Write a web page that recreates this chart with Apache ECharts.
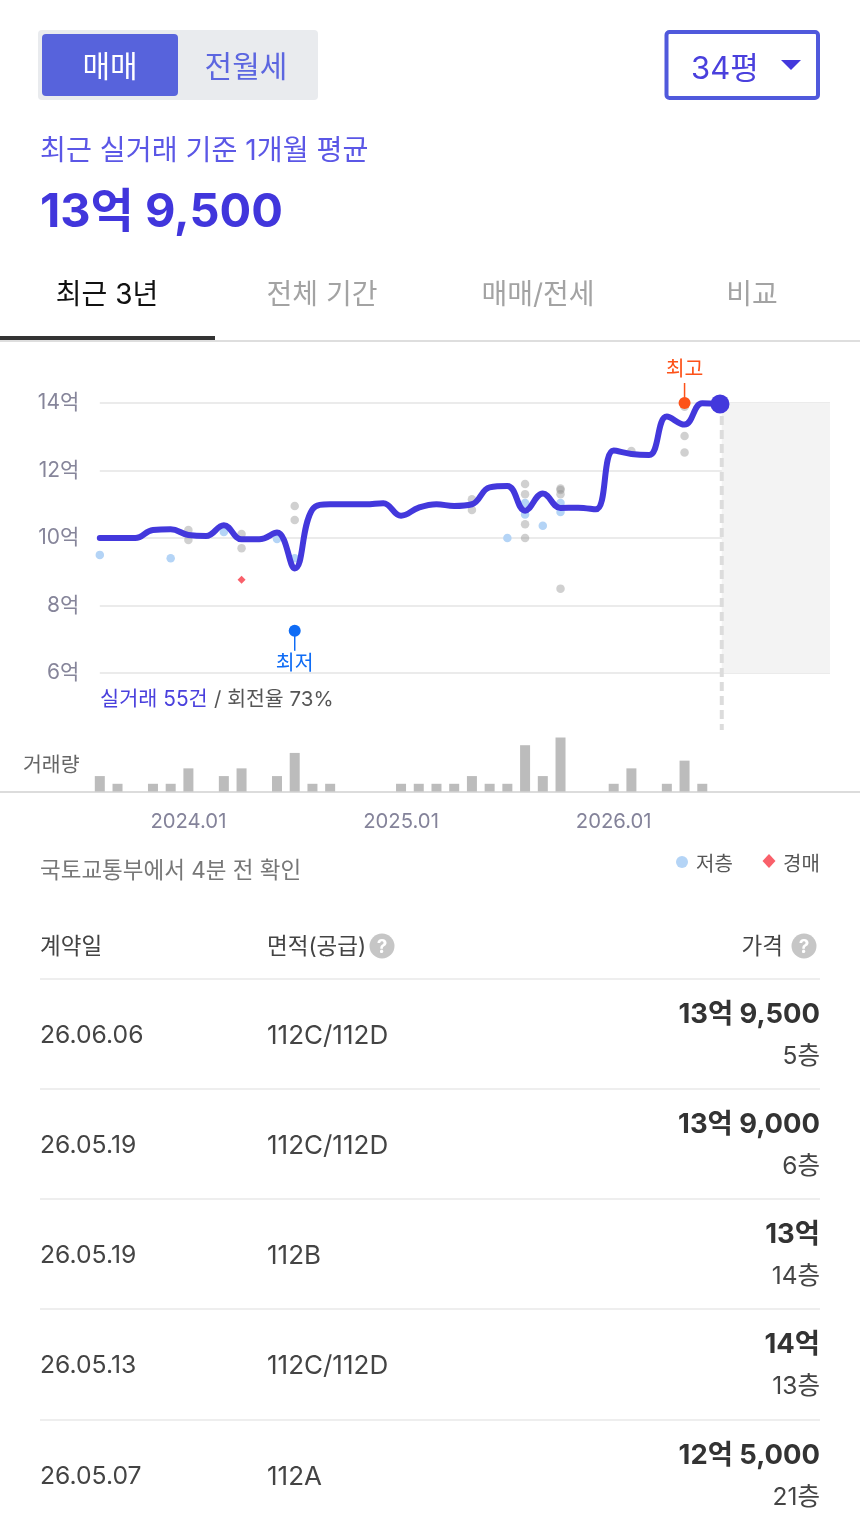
<!DOCTYPE html>
<html>
<head>
<meta charset="utf-8">
<title>실거래가</title>
<script src="https://cdn.jsdelivr.net/npm/echarts@6/dist/echarts.min.js"></script>
<style>
html, body { margin: 0; padding: 0; background: #fff; }
#chart { width: 860px; height: 1530px; }
</style>
</head>
<body>
<div id="chart"></div>
<script>
// month index 0 = 2023.08
var month_ticks = [5, 17, 29];
var month_labels = ["2024.01", "2025.01", "2026.01"];
var price_ticks = [6, 8, 10, 12, 14];

var avg_months = [0, 1, 2, 3, 4, 5, 6, 7, 8, 9, 10, 11, 12, 13, 14, 15, 16, 17, 18, 19, 20, 21, 22, 23, 24, 25, 26, 27, 28, 29, 30, 31, 32, 33, 34, 35];
var avg_prices = [10.0, 10.0, 10.0, 10.24, 10.26, 10.09, 10.06, 10.38, 9.96, 9.96, 10.16, 9.1, 10.85, 11.0, 11.0, 11.0, 11.03, 10.66, 10.9, 11.0, 10.95, 11.0, 11.5, 11.54, 10.81, 11.32, 10.89, 10.9, 10.85, 12.59, 12.49, 12.46, 13.6, 13.36, 13.99, 13.97];

var deal_months = [5, 5, 8, 8, 11, 11, 21, 21, 24, 24, 24, 24, 26, 26, 26, 26, 30, 33, 33, 33];
var deal_prices = [10.24, 9.94, 10.12, 9.7, 10.95, 10.53, 11.15, 10.83, 11.6, 11.3, 10.41, 10.0, 11.47, 11.42, 11.3, 8.5, 12.58, 13.89, 13.02, 12.53];

var low_months = [0, 4, 7, 10, 11, 23, 24, 24, 25, 26, 26];
var low_prices = [9.5, 9.4, 10.18, 9.97, 9.4, 10.0, 11.04, 10.7, 10.36, 11.04, 10.77];

var auction_months = [8];
var auction_prices = [8.76];

var volume_months = [0, 1, 3, 4, 5, 7, 8, 10, 11, 12, 13, 17, 18, 19, 20, 21, 22, 23, 24, 25, 26, 29, 30, 32, 33, 34];
var volume_counts = [2, 1, 1, 1, 3, 2, 3, 2, 5, 1, 1, 1, 1, 1, 1, 2, 1, 1, 6, 2, 7, 1, 3, 1, 4, 1];

var extreme_months = [33, 11];
var extreme_prices = [14.0, 7.25];
var extreme_names = ["최고", "최저"];

var table_dates = ["26.06.06", "26.05.19", "26.05.19", "26.05.13", "26.05.07"];
var table_areas = ["112C/112D", "112C/112D", "112B", "112C/112D", "112A"];
var table_prices = ["13억 9,500", "13억 9,000", "13억", "14억", "12억 5,000"];
var table_floors = ["5층", "6층", "14층", "13층", "21층"];

var FONT = 'Inter, "Noto Sans CJK KR", sans-serif';
var BLUE = "#4338dc";
var X0 = 99.8, PX_PER_MONTH = 17.72;

function pairs(a, b) {
    var r = [];
    for (var i = 0; i < a.length; i++) r.push([a[i], b[i]]);
    return r;
}

function txt(s, x, y, size, color, align, weight) {
    return {
        type: "text", silent: true, z: 20,
        style: {
            text: s, x: x, y: y + size * 0.08, fill: color,
            font: (weight || "normal") + " " + size + "px " + FONT,
            textAlign: align || "left", textVerticalAlign: "middle"
        }
    };
}

function box(x, y, w, h, fill, r, stroke, lw) {
    return {
        type: "rect", silent: true, z: 10,
        shape: {x: x, y: y, width: w, height: h, r: r || 0},
        style: {fill: fill, stroke: stroke || null, lineWidth: lw || 0}
    };
}

function rule(x1, y1, x2, y2, color, lw) {
    return {
        type: "line", silent: true, z: 10,
        shape: {x1: x1, y1: y1, x2: x2, y2: y2},
        style: {stroke: color, lineWidth: lw}
    };
}

function help_icon(cx, cy) {
    return [
        {type: "circle", silent: true, z: 15, shape: {cx: cx, cy: cy, r: 12.5}, style: {fill: "#c6c6c6"}},
        txt("?", cx, cy, 19, "#fff", "center", "bold")
    ];
}

function page_graphics() {
    var g = [];
    // buy / rent toggle
    g.push(box(38, 30, 280, 70, "#e9ebee", 4));
    g.push(box(42, 34, 136, 62, "#5763dc", 4));
    g.push(txt("매매", 110, 66, 30, "#fff", "center"));
    g.push(txt("전월세", 246, 66, 30, "#5c66e0", "center"));
    // size select
    g.push(box(666.5, 32, 151.5, 66, "#fff", 3, "#5059dc", 4));
    g.push(txt("34평", 691, 67, 31, "#4a40dd"));
    g.push({
        type: "polygon", silent: true, z: 15,
        shape: {points: [[781, 60], [801, 60], [791, 70]]},
        style: {fill: BLUE}
    });
    // summary
    g.push(txt("최근 실거래 기준 1개월 평균", 40, 149, 28.2, "#5b57e6"));
    g.push(txt("13억 9,500", 40, 209.5, 47, "#4136dc", "left", "bold"));
    // tabs
    g.push(txt("최근 3년", 107, 293, 28, "#111", "center"));
    g.push(txt("전체 기간", 322, 293, 28, "#a3a3a3", "center"));
    g.push(txt("매매/전세", 538, 293, 28, "#a3a3a3", "center"));
    g.push(txt("비교", 752, 293, 28, "#a3a3a3", "center"));
    g.push(box(0, 340, 860, 2, "#dedede"));
    g.push(box(0, 336, 215, 4, "#333"));
    // chart captions
    g.push(txt("실거래 55건", 100, 698, 20.8, "#4a40dd"));
    g.push(txt("/ 회전율 73%", 214, 698, 20.5, "#555"));
    g.push(txt("거래량", 23, 764, 20.5, "#666"));
    g.push(txt("국토교통부에서 4분 전 확인", 40, 869, 22.5, "#777"));
    // legend
    g.push({type: "circle", silent: true, z: 15, shape: {cx: 682, cy: 862, r: 6}, style: {fill: "#b4d4f6"}});
    g.push(txt("저층", 696, 863, 20, "#555"));
    g.push({
        type: "polygon", silent: true, z: 15,
        shape: {points: [[769, 854], [775.5, 861], [769, 868], [762.5, 861]]},
        style: {fill: "#f9606a"}
    });
    g.push(txt("경매", 783, 863, 20, "#555"));
    // table header
    g.push(txt("계약일", 40, 945, 22.5, "#444"));
    g.push(txt("면적(공급)", 267, 945, 22.5, "#444"));
    g = g.concat(help_icon(382, 946));
    g.push(txt("가격", 783, 945, 22.5, "#444", "right"));
    g = g.concat(help_icon(804, 946));
    // table rows
    var row_y = [979, 1089, 1199, 1309, 1420];
    for (var i = 0; i < table_dates.length; i++) {
        var y = row_y[i];
        g.push(rule(40, y, 820, y, "#eeeeee", 2));
        g.push(txt(table_dates[i], 40, y + 55, 24.7, "#444"));
        g.push(txt(table_areas[i], 267, y + 55, 26, "#444"));
        g.push(txt(table_prices[i], 820, y + 34, 27.4, "#333", "right", "bold"));
        g.push(txt(table_floors[i], 820, y + 76, 24.5, "#444", "right"));
    }
    return g;
}

var chart = echarts.init(document.getElementById("chart"), null, {renderer: "canvas"});

var option = {
    animation: false,
    backgroundColor: "#fff",
    textStyle: {fontFamily: FONT},
    grid: [
        {left: X0, width: 830 - X0, top: 403, height: 270},
        {left: 0, width: 860, top: 737.5, height: 54}
    ],
    xAxis: [
        {type: "value", gridIndex: 0, min: 0, max: (830 - X0) / PX_PER_MONTH, show: false},
        {
            type: "value", gridIndex: 1,
            min: -X0 / PX_PER_MONTH, max: (860 - X0) / PX_PER_MONTH,
            axisLine: {onZero: false, lineStyle: {color: "#dcdcdc", width: 2}},
            axisTick: {show: false},
            splitLine: {show: false},
            axisLabel: {
                customValues: month_ticks,
                margin: 20, fontSize: 20.3, color: "#84839a", fontFamily: FONT,
                formatter: function (v) {
                    return month_labels[month_ticks.indexOf(v)];
                }
            }
        }
    ],
    yAxis: [
        {
            type: "value", gridIndex: 0, min: 6, max: 14, interval: 2,
            axisLine: {show: false},
            axisTick: {show: false},
            splitLine: {lineStyle: {color: "#ebebeb", width: 2}},
            axisLabel: {
                margin: 20.5, fontSize: 21, color: "#86859a", fontFamily: FONT,
                padding: [4, 0, 0, 0],
                formatter: function (v) { return v + "억"; }
            }
        },
        {type: "value", gridIndex: 1, min: 0, max: 7, show: false}
    ],
    series: [
        {
            name: "실거래", type: "scatter", xAxisIndex: 0, yAxisIndex: 0, clip: false, z: 2,
            symbolSize: 8.5, itemStyle: {color: "#8f8f8f", opacity: 0.42},
            data: pairs(deal_months, deal_prices)
        },
        {
            name: "저층", type: "scatter", xAxisIndex: 0, yAxisIndex: 0, clip: false, z: 2,
            symbolSize: 8.5, itemStyle: {color: "#b4d4f6", opacity: 1},
            data: pairs(low_months, low_prices)
        },
        {
            name: "경매", type: "scatter", xAxisIndex: 0, yAxisIndex: 0, clip: false, z: 2,
            symbol: "diamond", symbolSize: 8, itemStyle: {color: "#f9606a", opacity: 1},
            data: pairs(auction_months, auction_prices)
        },
        {
            name: "평균", type: "line", xAxisIndex: 0, yAxisIndex: 0, clip: false, z: 5,
            smooth: 0.42, showSymbol: false,
            lineStyle: {color: BLUE, width: 6, cap: "round", join: "round"},
            data: pairs(avg_months, avg_prices),
            markArea: {
                silent: true,
                itemStyle: {color: "#f3f3f3", opacity: 1},
                data: [[{xAxis: 35.1, yAxis: 14}, {xAxis: (830 - X0) / PX_PER_MONTH, yAxis: 6}]]
            }
        },
        {
            name: "현재", type: "scatter", xAxisIndex: 0, yAxisIndex: 0, clip: false, z: 6,
            symbolSize: 19, itemStyle: {color: BLUE, opacity: 1},
            data: [[avg_months[avg_months.length - 1], avg_prices[avg_prices.length - 1]]]
        },
        {
            name: "최고최저", type: "custom", xAxisIndex: 0, yAxisIndex: 0, clip: false, z: 6,
            data: pairs(extreme_months, extreme_prices),
            renderItem: function (params, api) {
                var p = api.coord([api.value(0), api.value(1)]);
                var high = params.dataIndex == 0;
                var color = high ? "#fd5219" : "#0f6cf5";
                var dir = high ? -1 : 1;
                return {
                    type: "group",
                    children: [
                        {type: "line", shape: {x1: p[0], y1: p[1], x2: p[0], y2: p[1] + dir * 20}, style: {stroke: color, lineWidth: 1.5}},
                        {type: "circle", shape: {cx: p[0], cy: p[1], r: 6}, style: {fill: color}},
                        {
                            type: "text",
                            style: {
                                text: extreme_names[params.dataIndex], x: p[0], y: p[1] + dir * 33,
                                fill: color, font: "20.5px " + FONT, textAlign: "center", textVerticalAlign: "middle"
                            }
                        }
                    ]
                };
            }
        },
        {
            name: "거래량", type: "bar", xAxisIndex: 1, yAxisIndex: 1,
            barWidth: 10, itemStyle: {color: "#bcbcbc"},
            data: pairs(volume_months, volume_counts)
        }
    ]
};
chart.setOption(option);

// dashed marker under the last point runs past the plot, so it is placed from the scale
var last = chart.convertToPixel({gridIndex: 0}, [35.1, 14]);
var graphics = page_graphics();
graphics.push({
    type: "line", silent: true, z: 1,
    shape: {x1: last[0], y1: 416, x2: last[0], y2: 730},
    style: {stroke: "#dcdcdc", lineWidth: 4, lineDash: [9, 5]}
});
chart.setOption({graphic: graphics});
</script>
</body>
</html>
